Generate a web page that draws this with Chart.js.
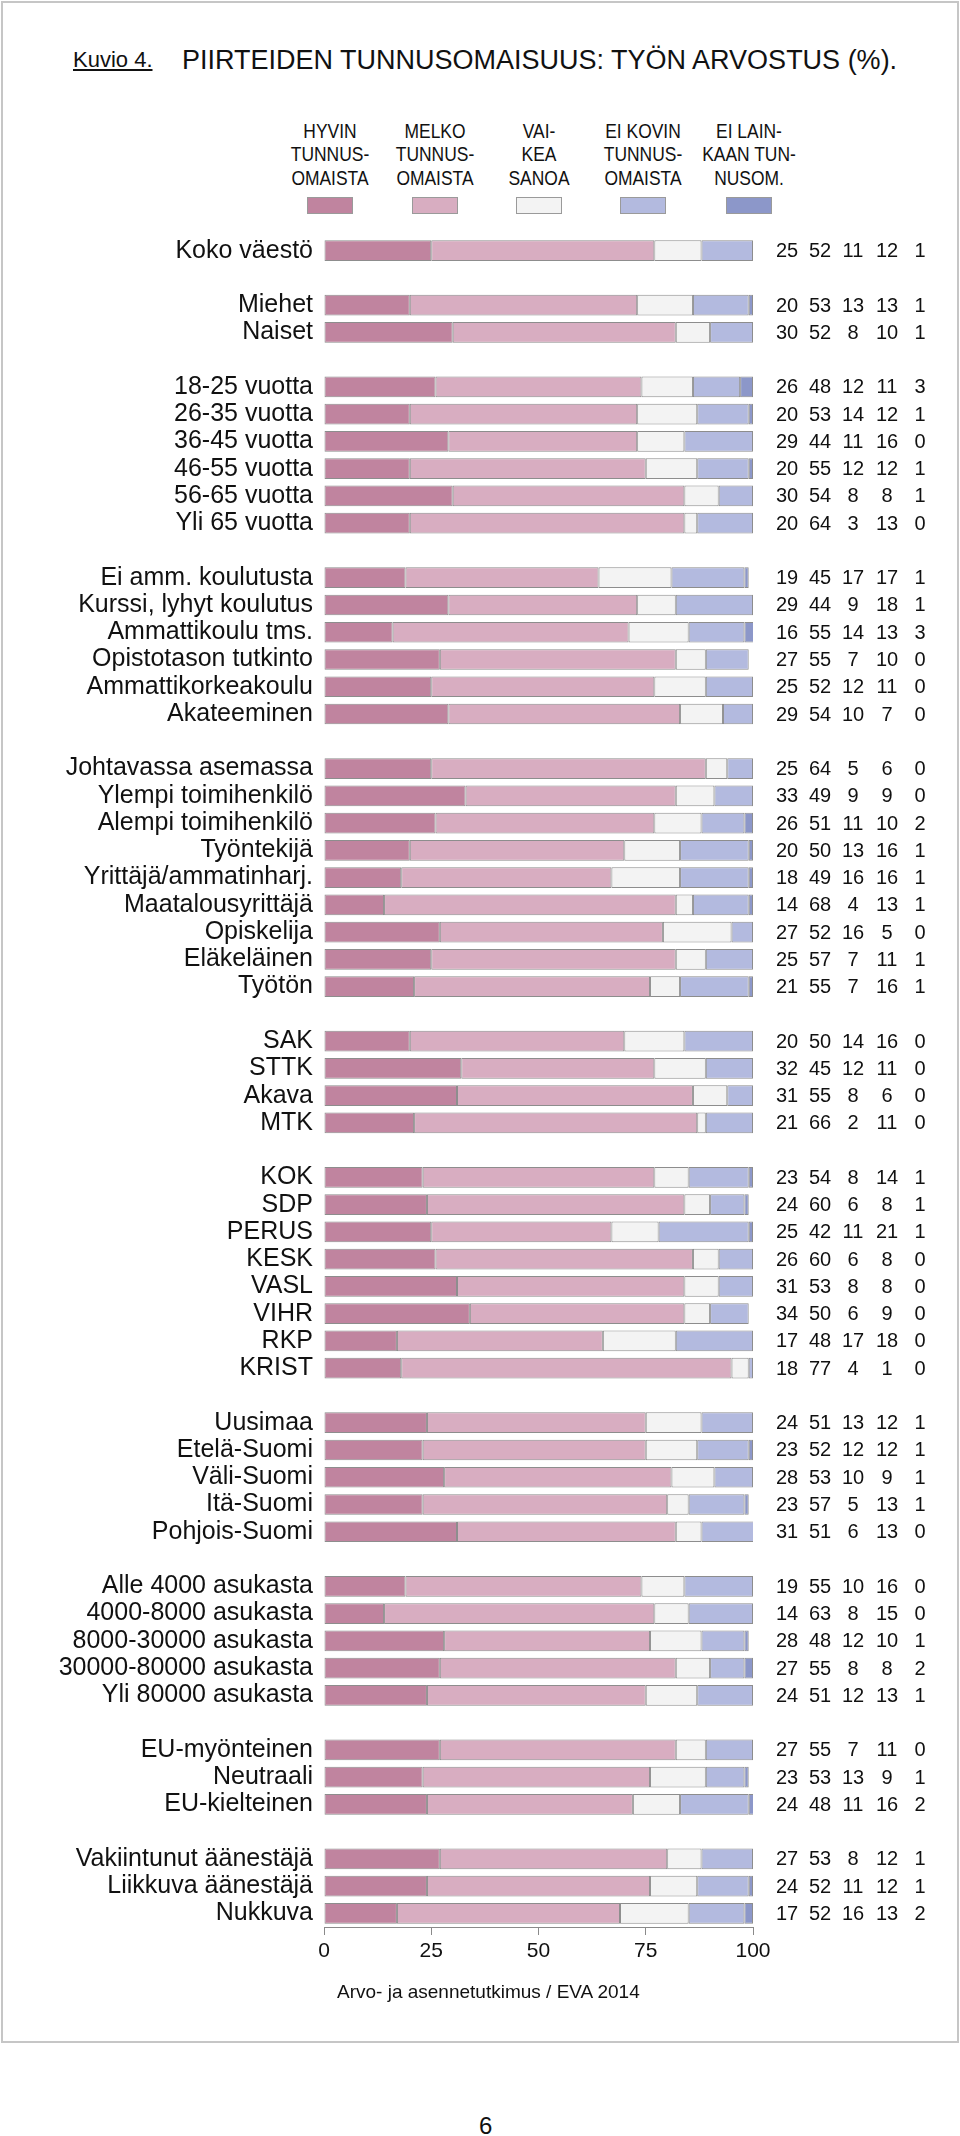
<!DOCTYPE html>
<html>
<head>
<meta charset="utf-8">
<script src="https://cdn.jsdelivr.net/npm/chart.js@4"></script>
<style>
  body { margin: 0; background: #fff; font-family: 'Liberation Sans', Arial, sans-serif; color: #111; }
  #page { position: relative; width: 960px; height: 2136px; overflow: hidden; }
  #frame { position: absolute; left: 1px; top: 1px; width: 954px; height: 2038px; border: 2px solid #c6c6c6; }
  .txt { position: absolute; white-space: nowrap; }
  #kuvio { left: 73px; top: 49px; font-size: 22px; line-height: 22px; text-decoration: underline; }
  #title { left: 182px; top: 47px; font-size: 27px; line-height: 27px; }
  .legcol { position: absolute; top: 119px; width: 120px; margin-left: -60px; text-align: center; }
  .legtxt { font-size: 21px; line-height: 23.3px; transform: scaleX(0.83); }
  .legbox { position: absolute; top: 197px; width: 44px; height: 15px; margin-left: -23px; border: 1px solid #9a9a9a; }
  #source { left: 337px; top: 1982px; font-size: 19px; line-height: 19px; }
  #pagenum { left: 479px; top: 2114px; font-size: 24px; line-height: 24px; }
  #chartBox { position: absolute; left: 0; top: 0; }
</style>
</head>
<body>
<div id="page">
  <div id="frame"></div>
  <div class="txt" id="kuvio">Kuvio 4.</div>
  <div class="txt" id="title">PIIRTEIDEN TUNNUSOMAISUUS: TYÖN ARVOSTUS (%).</div>
  <div id="legend"></div>
  <div id="chartBox"><canvas id="chart" width="960" height="1990"></canvas></div>
  <div class="txt" id="source">Arvo- ja asennetutkimus / EVA 2014</div>
  <div class="txt" id="pagenum">6</div>
</div>
<script>
// --- DATA ---
// tyhjä rivi ('' / null) = väli ryhmien välissä
const categories = [
  'Koko väestö', '',
  'Miehet', 'Naiset', '',
  '18-25 vuotta', '26-35 vuotta', '36-45 vuotta', '46-55 vuotta', '56-65 vuotta', 'Yli 65 vuotta', '',
  'Ei amm. koulutusta', 'Kurssi, lyhyt koulutus', 'Ammattikoulu tms.', 'Opistotason tutkinto', 'Ammattikorkeakoulu', 'Akateeminen', '',
  'Johtavassa asemassa', 'Ylempi toimihenkilö', 'Alempi toimihenkilö', 'Työntekijä', 'Yrittäjä/ammatinharj.', 'Maatalousyrittäjä', 'Opiskelija', 'Eläkeläinen', 'Työtön', '',
  'SAK', 'STTK', 'Akava', 'MTK', '',
  'KOK', 'SDP', 'PERUS', 'KESK', 'VASL', 'VIHR', 'RKP', 'KRIST', '',
  'Uusimaa', 'Etelä-Suomi', 'Väli-Suomi', 'Itä-Suomi', 'Pohjois-Suomi', '',
  'Alle 4000 asukasta', '4000-8000 asukasta', '8000-30000 asukasta', '30000-80000 asukasta', 'Yli 80000 asukasta', '',
  'EU-myönteinen', 'Neutraali', 'EU-kielteinen', '',
  'Vakiintunut äänestäjä', 'Liikkuva äänestäjä', 'Nukkuva'
];

const hyvin = [25, null, 20, 30, null, 26, 20, 29, 20, 30, 20, null, 19, 29, 16, 27, 25, 29, null,
  25, 33, 26, 20, 18, 14, 27, 25, 21, null, 20, 32, 31, 21, null, 23, 24, 25, 26, 31, 34, 17, 18, null,
  24, 23, 28, 23, 31, null, 19, 14, 28, 27, 24, null, 27, 23, 24, null, 27, 24, 17];
const melko = [52, null, 53, 52, null, 48, 53, 44, 55, 54, 64, null, 45, 44, 55, 55, 52, 54, null,
  64, 49, 51, 50, 49, 68, 52, 57, 55, null, 50, 45, 55, 66, null, 54, 60, 42, 60, 53, 50, 48, 77, null,
  51, 52, 53, 57, 51, null, 55, 63, 48, 55, 51, null, 55, 53, 48, null, 53, 52, 52];
const vaikea = [11, null, 13, 8, null, 12, 14, 11, 12, 8, 3, null, 17, 9, 14, 7, 12, 10, null,
  5, 9, 11, 13, 16, 4, 16, 7, 7, null, 14, 12, 8, 2, null, 8, 6, 11, 6, 8, 6, 17, 4, null,
  13, 12, 10, 5, 6, null, 10, 8, 12, 8, 12, null, 7, 13, 11, null, 8, 11, 16];
const eiKovin = [12, null, 13, 10, null, 11, 12, 16, 12, 8, 13, null, 17, 18, 13, 10, 11, 7, null,
  6, 9, 10, 16, 16, 13, 5, 11, 16, null, 16, 11, 6, 11, null, 14, 8, 21, 8, 8, 9, 18, 1, null,
  12, 12, 9, 13, 13, null, 16, 15, 10, 8, 13, null, 11, 9, 16, null, 12, 12, 13];
const eiLainkaan = [1, null, 1, 1, null, 3, 1, 0, 1, 1, 0, null, 1, 1, 3, 0, 0, 0, null,
  0, 0, 2, 1, 1, 1, 0, 1, 1, null, 0, 0, 0, 0, null, 1, 1, 1, 0, 0, 0, 0, 0, null,
  1, 1, 1, 1, 0, null, 0, 0, 1, 2, 1, null, 0, 1, 2, null, 1, 1, 2];

const seriesNames = [
  ['HYVIN', 'TUNNUS-', 'OMAISTA'],
  ['MELKO', 'TUNNUS-', 'OMAISTA'],
  ['VAI-', 'KEA', 'SANOA'],
  ['EI KOVIN', 'TUNNUS-', 'OMAISTA'],
  ['EI LAIN-', 'KAAN TUN-', 'NUSOM.']
];
const seriesValues = [hyvin, melko, vaikea, eiKovin, eiLainkaan];
const seriesColors = ['#c0849f', '#d8adc1', '#f3f3f3', '#b3badf', '#8c97c9'];
const xTicks = [0, 25, 50, 75, 100];

// --- LEGEND (HTML) ---
const legendCenters = [330, 435, 539, 643, 749];
const legendEl = document.getElementById('legend');
seriesNames.forEach((lines, i) => {
  const col = document.createElement('div');
  col.className = 'legcol';
  col.style.left = legendCenters[i] + 'px';
  col.innerHTML = '<div class="legtxt">' + lines.join('<br>') + '</div>';
  legendEl.appendChild(col);
  const box = document.createElement('div');
  box.className = 'legbox';
  box.style.left = legendCenters[i] + 'px';
  box.style.background = seriesColors[i];
  legendEl.appendChild(box);
});

// --- VALUE COLUMNS PLUGIN ---
const valueCols = [34, 67, 100, 134, 167]; // etäisyys kaavion oikeasta reunasta
const valueLabels = {
  id: 'valueLabels',
  afterDatasetsDraw(chart) {
    const ctx = chart.ctx;
    const yScale = chart.scales.y;
    const right = chart.chartArea.right;
    ctx.save();
    ctx.font = '20px "Liberation Sans", Arial, sans-serif';
    ctx.fillStyle = '#111';
    ctx.textAlign = 'center';
    ctx.textBaseline = 'middle';
    categories.forEach((c, i) => {
      if (!c) return;
      const y = yScale.getPixelForValue(i);
      seriesValues.forEach((arr, d) => {
        ctx.fillText(String(arr[i]), right + valueCols[d], y + 1);
      });
    });
    ctx.restore();
  }
};

Chart.defaults.font.family = "'Liberation Sans', Arial, sans-serif";
Chart.defaults.color = '#111';

new Chart(document.getElementById('chart'), {
  type: 'bar',
  data: {
    labels: categories,
    datasets: seriesValues.map((arr, i) => ({
      label: seriesNames[i].join(' '),
      data: arr,
      backgroundColor: seriesColors[i],
      borderColor: 'rgba(80,80,80,0.65)',
      borderWidth: 1,
      borderSkipped: false,
      barPercentage: 0.76,
      categoryPercentage: 1
    }))
  },
  options: {
    indexAxis: 'y',
    responsive: false,
    animation: false,
    devicePixelRatio: 1,
    layout: { padding: { top: 237, right: 207, bottom: 0, left: 0 } },
    scales: {
      x: {
        stacked: true,
        min: 0,
        max: 100,
        afterBuildTicks: s => { s.ticks = xTicks.map(v => ({ value: v })); },
        afterFit: s => { s.height = 63; },
        ticks: { font: { size: 21 }, color: '#111', padding: 4 },
        grid: { drawOnChartArea: false, drawTicks: true, tickLength: 8, color: '#8a8a8a' },
        border: { display: true, color: '#8a8a8a' }
      },
      y: {
        stacked: true,
        afterFit: s => { s.width = 324; },
        ticks: { font: { size: 25 }, color: '#111', padding: 11, autoSkip: false },
        grid: { display: false, drawTicks: false },
        border: { display: false }
      }
    },
    plugins: {
      legend: { display: false },
      tooltip: { enabled: false }
    }
  },
  plugins: [valueLabels]
});
</script>
</body>
</html>
